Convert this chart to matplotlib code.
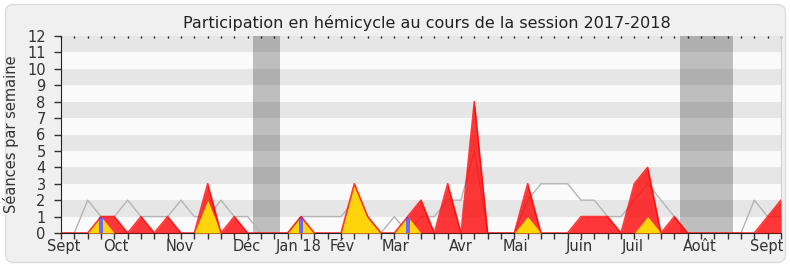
import matplotlib.pyplot as plt
from matplotlib.patches import FancyBboxPatch

# weekly values, session 2017-2018 (week 0 = early Sept 2017)
weeks = list(range(55))
mediane = [0, 0, 2, 1, 1, 2, 1, 1, 1, 2, 1, 1, 2, 1, 1, 0, 0, 0, 1, 1,
           1, 1, 2, 1, 0, 1, 0, 1, 1, 2, 2, 5, 0, 0, 0, 2, 3, 3, 3, 2,
           2, 1, 1, 2, 3, 2, 1, 0, 0, 0, 0, 0, 2, 1, 1]
presences = [0, 0, 0, 1, 1, 0, 1, 0, 1, 0, 0, 3, 0, 1, 0, 0, 0, 0, 1, 0,
             0, 0, 3, 1, 0, 0, 1, 2, 0, 3, 0, 8, 0, 0, 0, 3, 0, 0, 0, 1,
             1, 1, 0, 3, 4, 0, 1, 0, 0, 0, 0, 0, 0, 1, 2]
interventions = [0, 0, 0, 1, 0, 0, 0, 0, 0, 0, 0, 2, 0, 0, 0, 0, 0, 0, 1, 0,
                 0, 0, 3, 1, 0, 0, 1, 0, 0, 0, 0, 0, 0, 0, 0, 1, 0, 0, 0, 0,
                 0, 0, 0, 0, 1, 0, 0, 0, 0, 0, 0, 0, 0, 0, 0]
questions_weeks = [3, 18, 26]
questions = [1, 1, 1]
vacances = [(14.43, 16.43), (46.4, 50.4)]

months = ['Sept', 'Oct', 'Nov', 'Déc', 'Jan 18', 'Fév', 'Mar', 'Avr', 'Mai',
          'Juin', 'Juil', 'Août', 'Sept']
month_pos = [0.2, 4.1, 8.9, 13.9, 17.8, 21.1, 25.05, 29.95, 34.05, 38.9,
             42.9, 47.9, 52.9]

plt.rcParams['font.family'] = 'DejaVu Sans'
fig = plt.figure(figsize=(7.9, 2.67), dpi=100)
fig.patch.set_facecolor('white')
# rounded light frame behind everything
frame = FancyBboxPatch((0.055, 0.045), 7.8, 2.58,
                       boxstyle='round,pad=0,rounding_size=0.08',
                       transform=fig.dpi_scale_trans, facecolor='#f0f0f0',
                       edgecolor='#dcdcdc', linewidth=1, zorder=-10)
fig.patches.append(frame)

ax = fig.add_axes([61 / 790, 34 / 267, 720 / 790, 197 / 267])
ax.set_facecolor('#fafafa')
for k in range(1, 12, 2):
    ax.axhspan(k, k + 1, color='#e6e6e6', lw=0, zorder=0)
for a, b in vacances:
    ax.axvspan(a, b, color='black', alpha=0.24, lw=0, zorder=1)

ax.plot(weeks, mediane, color='#b4b4b4', lw=1, zorder=2)
ax.fill_between(weeks, presences, color='#ff0000', alpha=0.78, lw=0, zorder=3)
ax.fill_between(weeks, interventions, color='#ffd40a', lw=0, zorder=4)
ax.bar(questions_weeks, questions, width=0.3, color='#6a6aff', zorder=5)
ax.plot(weeks, presences, color='#ff0000', lw=1.2, alpha=0.75, zorder=6)

ax.set_xlim(0, 54)
ax.set_ylim(0, 12)
ax.set_yticks(range(13))
ax.tick_params(axis='y', length=5, width=1, color='#333333', labelsize=10.5,
               labelcolor='#333333', pad=6)
ax.set_xticks(month_pos)
ax.set_xticklabels(months)
ax.set_xticks(weeks, minor=True)
ax.tick_params(axis='x', which='major', length=0, labelsize=10.5,
               labelcolor='#333333', pad=4)
ax.tick_params(axis='x', which='minor', length=4, width=1, color='#333333')

top = ax.secondary_xaxis('top')
top.set_xticks(weeks)
top.tick_params(length=1.5, width=1, direction='in', color='#222222',
                labeltop=False)
top.spines['top'].set_visible(False)

ax.spines['top'].set_visible(False)
ax.spines['right'].set_color('#d0d0d0')
ax.spines['left'].set_color('#222222')
ax.spines['bottom'].set_color('#222222')

ax.set_ylabel('Séances par semaine', fontsize=10.5, color='#333333')
ax.yaxis.set_label_coords(-0.058, 0.5)
fig.text(427 / 790, 239 / 267, 'Participation en hémicycle au cours de la session 2017-2018',
         ha='center', va='baseline', fontsize=11.5, color='#222222')

fig.savefig('out.png', dpi=100)
